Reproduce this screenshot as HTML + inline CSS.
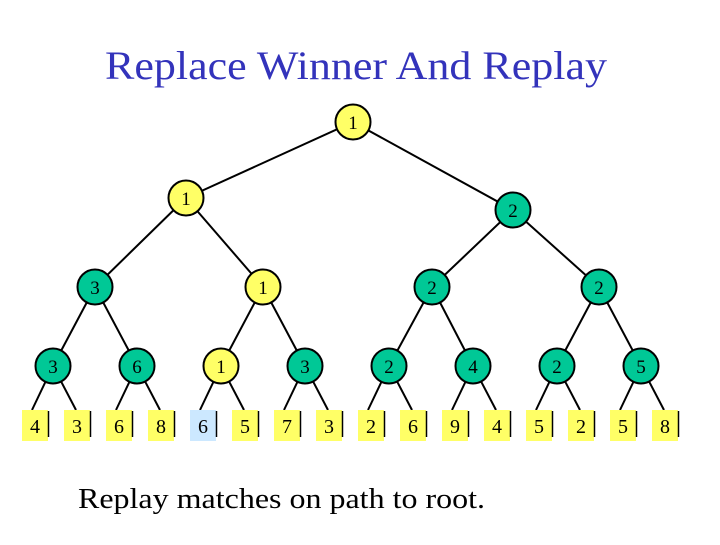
<!DOCTYPE html>
<html><head><meta charset="utf-8"><style>html,body{margin:0;padding:0;background:#fff}svg text{font-family:"Liberation Serif","Times New Roman",Times,"DejaVu Serif","Noto Serif CJK SC",serif}</style></head>
<body>
<svg width="720" height="540" xmlns="http://www.w3.org/2000/svg">
<text x="105" y="79" font-size="40" fill="#3333bb" textLength="502" lengthAdjust="spacingAndGlyphs">Replace Winner And Replay</text>
<g stroke="#000" stroke-width="2">
<line x1="353" y1="122" x2="186" y2="198"/><line x1="353" y1="122" x2="513" y2="210"/>
<line x1="186" y1="198" x2="95" y2="287"/><line x1="186" y1="198" x2="263" y2="287"/>
<line x1="513" y1="210" x2="432" y2="287"/><line x1="513" y1="210" x2="599" y2="287"/>
<line x1="95" y1="287" x2="53" y2="366"/><line x1="95" y1="287" x2="137" y2="366"/>
<line x1="263" y1="287" x2="221" y2="366"/><line x1="263" y1="287" x2="305" y2="366"/>
<line x1="432" y1="287" x2="389" y2="366"/><line x1="432" y1="287" x2="473" y2="366"/>
<line x1="599" y1="287" x2="557" y2="366"/><line x1="599" y1="287" x2="641" y2="366"/>
<line x1="53" y1="366" x2="32" y2="410"/><line x1="53" y1="366" x2="76" y2="410"/>
<line x1="137" y1="366" x2="116" y2="410"/><line x1="137" y1="366" x2="160" y2="410"/>
<line x1="221" y1="366" x2="200" y2="410"/><line x1="221" y1="366" x2="244" y2="410"/>
<line x1="305" y1="366" x2="284" y2="410"/><line x1="305" y1="366" x2="328" y2="410"/>
<line x1="389" y1="366" x2="368" y2="410"/><line x1="389" y1="366" x2="412" y2="410"/>
<line x1="473" y1="366" x2="452" y2="410"/><line x1="473" y1="366" x2="496" y2="410"/>
<line x1="557" y1="366" x2="536" y2="410"/><line x1="557" y1="366" x2="580" y2="410"/>
<line x1="641" y1="366" x2="620" y2="410"/><line x1="641" y1="366" x2="664" y2="410"/>
</g>
<g stroke="#000" stroke-width="2">
<circle cx="353" cy="122" r="17.5" fill="#ffff66"/>
<circle cx="186" cy="198" r="17.5" fill="#ffff66"/>
<circle cx="513" cy="210" r="17.5" fill="#00c896"/>
<circle cx="95" cy="287" r="17.5" fill="#00c896"/>
<circle cx="263" cy="287" r="17.5" fill="#ffff66"/>
<circle cx="432" cy="287" r="17.5" fill="#00c896"/>
<circle cx="599" cy="287" r="17.5" fill="#00c896"/>
<circle cx="53" cy="366" r="17.5" fill="#00c896"/>
<circle cx="137" cy="366" r="17.5" fill="#00c896"/>
<circle cx="221" cy="366" r="17.5" fill="#ffff66"/>
<circle cx="305" cy="366" r="17.5" fill="#00c896"/>
<circle cx="389" cy="366" r="17.5" fill="#00c896"/>
<circle cx="473" cy="366" r="17.5" fill="#00c896"/>
<circle cx="557" cy="366" r="17.5" fill="#00c896"/>
<circle cx="641" cy="366" r="17.5" fill="#00c896"/>
</g>
<g font-size="19" text-anchor="middle" fill="#000">
<text x="353" y="129">1</text><text x="186" y="205">1</text><text x="513" y="217">2</text>
<text x="95" y="294">3</text><text x="263" y="294">1</text><text x="432" y="294">2</text><text x="599" y="294">2</text>
<text x="53" y="373">3</text><text x="137" y="373">6</text><text x="221" y="373">1</text><text x="305" y="373">3</text>
<text x="389" y="373">2</text><text x="473" y="373">4</text><text x="557" y="373">2</text><text x="641" y="373">5</text>
</g>
<g font-size="20" text-anchor="middle">
<g fill="#ffff66">
<rect x="22" y="410" width="26" height="31"/><rect x="64" y="410" width="26" height="31"/>
<rect x="106" y="410" width="26" height="31"/><rect x="148" y="410" width="26" height="31"/>
<rect x="190" y="410" width="26" height="31" fill="#cce8ff"/><rect x="232" y="410" width="26" height="31"/>
<rect x="274" y="410" width="26" height="31"/><rect x="316" y="410" width="26" height="31"/>
<rect x="358" y="410" width="26" height="31"/><rect x="400" y="410" width="26" height="31"/>
<rect x="442" y="410" width="26" height="31"/><rect x="484" y="410" width="26" height="31"/>
<rect x="526" y="410" width="26" height="31"/><rect x="568" y="410" width="26" height="31"/>
<rect x="610" y="410" width="26" height="31"/><rect x="652" y="410" width="26" height="31"/>
</g>
<g stroke="#000" stroke-width="1.5">
<line x1="48.5" y1="411" x2="48.5" y2="437"/><line x1="90.5" y1="411" x2="90.5" y2="437"/>
<line x1="132.5" y1="411" x2="132.5" y2="437"/><line x1="174.5" y1="411" x2="174.5" y2="437"/>
<line x1="216.5" y1="411" x2="216.5" y2="437"/><line x1="258.5" y1="411" x2="258.5" y2="437"/>
<line x1="300.5" y1="411" x2="300.5" y2="437"/><line x1="342.5" y1="411" x2="342.5" y2="437"/>
<line x1="384.5" y1="411" x2="384.5" y2="437"/><line x1="426.5" y1="411" x2="426.5" y2="437"/>
<line x1="468.5" y1="411" x2="468.5" y2="437"/><line x1="510.5" y1="411" x2="510.5" y2="437"/>
<line x1="552.5" y1="411" x2="552.5" y2="437"/><line x1="594.5" y1="411" x2="594.5" y2="437"/>
<line x1="636.5" y1="411" x2="636.5" y2="437"/><line x1="678.5" y1="411" x2="678.5" y2="437"/>
</g>
<g fill="#000">
<text x="35" y="433">4</text><text x="77" y="433">3</text><text x="119" y="433">6</text><text x="161" y="433">8</text>
<text x="203" y="433">6</text><text x="245" y="433">5</text><text x="287" y="433">7</text><text x="329" y="433">3</text>
<text x="371" y="433">2</text><text x="413" y="433">6</text><text x="455" y="433">9</text><text x="497" y="433">4</text>
<text x="539" y="433">5</text><text x="581" y="433">2</text><text x="623" y="433">5</text><text x="665" y="433">8</text>
</g>
</g>
<text x="78" y="508" font-size="28" fill="#000" textLength="407" lengthAdjust="spacingAndGlyphs">Replay matches on path to root.</text>
</svg>
</body></html>
